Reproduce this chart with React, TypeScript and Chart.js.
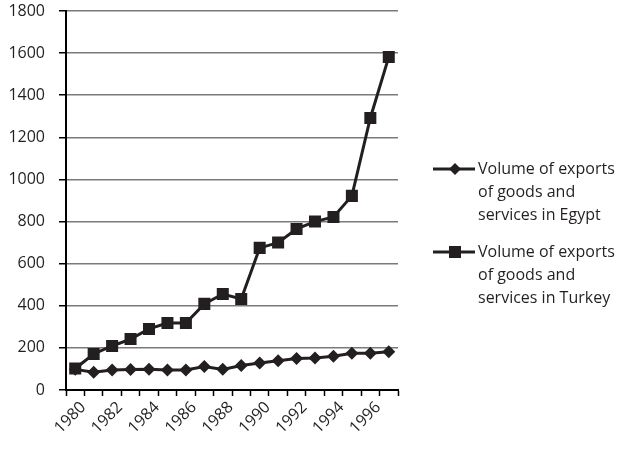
import React, { useEffect, useRef } from "react";
import { Chart, registerables } from "chart.js";

Chart.register(...registerables);

const years = [
  "1980", "1981", "1982", "1983", "1984", "1985", "1986", "1987", "1988",
  "1989", "1990", "1991", "1992", "1993", "1994", "1995", "1996", "1997",
];
const egyptExports = [98, 84, 95, 97, 98, 95, 95, 112, 98, 116, 128, 139, 150, 152, 160, 175, 174, 182];
const turkeyExports = [102, 171, 209, 242, 290, 318, 318, 409, 456, 432, 675, 700, 765, 800, 822, 922, 1292, 1582];
const seriesNames = [
  "Volume of exports of goods and services in Egypt",
  "Volume of exports of goods and services in Turkey",
];
const seriesMarkers = ["rectRot", "rect"];
const yMin = 0;
const yMax = 1800;
const yStep = 200;

const INK = "#231f20";
const FONT = "'Open Sans', sans-serif";

const legendPlugin = {
  id: "sideLegend",
  afterDraw(chart: any) {
    const ctx = chart.ctx;
    ctx.save();
    ctx.font = `16px ${FONT}`;
    ctx.fillStyle = INK;
    ctx.textBaseline = "middle";
    ctx.textAlign = "left";
    const lineH = 23;
    const starts = [169, 252];
    const maxW = 150;
    chart.data.datasets.forEach((ds: any, i: number) => {
      const words = String(ds.label).split(" ");
      const lines: string[] = [];
      let cur = "";
      for (const w of words) {
        const t = cur ? cur + " " + w : w;
        if (ctx.measureText(t).width > maxW && cur) {
          lines.push(cur);
          cur = w;
        } else cur = t;
      }
      if (cur) lines.push(cur);
      const y0 = starts[i];
      ctx.strokeStyle = INK;
      ctx.lineWidth = 3;
      ctx.beginPath();
      ctx.moveTo(433, y0);
      ctx.lineTo(475, y0);
      ctx.stroke();
      ctx.fillStyle = INK;
      if (ds.pointStyle === "rect") {
        ctx.fillRect(449, y0 - 6, 12, 12);
      } else {
        ctx.beginPath();
        ctx.moveTo(455, y0 - 6);
        ctx.lineTo(461, y0);
        ctx.lineTo(455, y0 + 6);
        ctx.lineTo(449, y0);
        ctx.closePath();
        ctx.fill();
      }
      lines.forEach((ln, k) => ctx.fillText(ln, 478, y0 + k * lineH));
    });
    ctx.restore();
  },
};

export default function App() {
  const ref = useRef<HTMLCanvasElement | null>(null);
  useEffect(() => {
    if (!ref.current) return;
    const chart = new Chart(ref.current, {
      type: "line",
      data: {
        labels: years,
        datasets: [egyptExports, turkeyExports].map((d, i) => ({
          label: seriesNames[i],
          data: d,
          borderColor: INK,
          backgroundColor: INK,
          borderWidth: 3,
          pointStyle: seriesMarkers[i] as any,
          pointRadius: i === 0 ? 6.5 : 8.5,
          pointBorderWidth: 0,
          pointBackgroundColor: INK,
          tension: 0,
        })),
      },
      options: {
        responsive: false,
        animation: false,
        layout: { padding: { left: 0, right: 232, top: 11, bottom: 0 } },
        plugins: { legend: { display: false }, tooltip: { enabled: false } },
        scales: {
          x: {
            offset: true,
            grid: {
              display: true,
              offset: true,
              drawOnChartArea: false,
              drawTicks: true,
              tickLength: 6,
              tickColor: "#000",
              tickWidth: 1.5,
            },
            border: { display: true, color: "#000", width: 2 },
            ticks: {
              autoSkip: false,
              maxRotation: 45,
              minRotation: 45,
              padding: 2,
              labelOffset: 8,
              color: INK,
              font: { family: FONT, size: 16 },
              callback: (_v: any, idx: number) => (idx % 2 === 0 ? years[idx] : ""),
            },
            afterFit: (s: any) => {
              s.height = 63;
              s.paddingTop = 0;
              s.paddingBottom = 0;
              s.paddingLeft = 0;
              s.paddingRight = 0;
            },
          },
          y: {
            min: yMin,
            max: yMax,
            grid: {
              color: "#7a7a7a",
              lineWidth: 1.5,
              tickColor: "#000",
              tickLength: 7,
              tickWidth: 1.5,
            },
            border: { display: true, color: "#000", width: 2 },
            ticks: {
              stepSize: yStep,
              padding: 14,
              color: INK,
              font: { family: FONT, size: 16 },
              callback: (v: any) => String(v),
            },
            afterFit: (s: any) => {
              s.width = 66;
              s.paddingTop = 0;
              s.paddingBottom = 0;
            },
          },
        },
      },
      plugins: [legendPlugin],
    });
    return () => chart.destroy();
  }, []);
  return (
    <div style={{ position: "absolute", left: 0, top: 0, width: 630, height: 453, background: "#fff" }}>
      <canvas ref={ref} width={630} height={453} />
    </div>
  );
}
